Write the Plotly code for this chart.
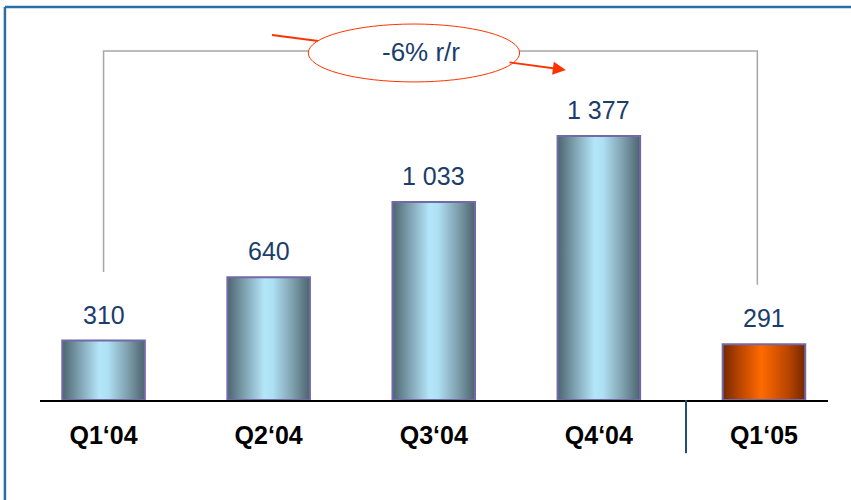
import plotly.graph_objects as go

quarters = ["Q1‘04", "Q2‘04", "Q3‘04", "Q4‘04", "Q1‘05"]
values = [310, 640, 1033, 1377, 291]
labels = ["310", "640", "1 033", "1 377", "291"]
change_text = "-6% r/r"

blue_scale = [[0, "#4b6570"], [0.2, "#7d9fae"], [0.45, "#b4e6fa"], [0.55, "#aee0f4"],
              [0.8, "#7d9dab"], [1, "#4b636e"]]
orange_scale = [[0, "#742800"], [0.2, "#b84400"], [0.47, "#ff6a00"], [0.8, "#b84400"],
                [1, "#742800"]]

half = 0.25
fig = go.Figure()

for i, v in enumerate(values):
    scale = orange_scale if i == len(values) - 1 else blue_scale
    fig.add_trace(go.Scatter(
        x=[i - half, i - half, i + half, i + half, i - half],
        y=[0, v, v, 0, 0],
        mode="lines", fill="toself",
        fillgradient=dict(type="horizontal", colorscale=scale),
        line=dict(color="#7269a6", width=2),
        hoverinfo="skip", showlegend=False,
    ))
    fig.add_annotation(x=i, y=v, text=labels[i], showarrow=False,
                       yanchor="bottom", yshift=10,
                       font=dict(size=25, color="#1b3d6b"))

# bracket from first to last quarter
top = 1820
fig.add_shape(type="path",
              path=f"M 0,{values[0] + 358} L 0,{top} L {len(values) - 1.04},{top} L {len(values) - 1.04},{values[-1] + 310}",
              line=dict(color="#a6a6a6", width=1.5))

# arrow through the ellipse
fig.add_shape(type="line", x0=1.02, y0=1904, x1=1.30, y1=1873,
              line=dict(color="#ff3300", width=2))
fig.add_annotation(x=2.80, y=1721, ax=2.45, ay=1762, axref="x", ayref="y",
                   showarrow=True, arrowhead=2, arrowsize=1.3, arrowwidth=2,
                   arrowcolor="#ff3300", text="")
fig.add_shape(type="circle", x0=1.24, x1=2.52, y0=1659, y1=1961,
              fillcolor="white", line=dict(color="#ff3300", width=1))
fig.add_annotation(x=1.92, y=1815, text=change_text, showarrow=False,
                   font=dict(size=26, color="#1b3d6b"))

# separator before Q1'05
fig.add_shape(type="line", xref="paper", yref="paper", x0=0.8198, x1=0.8198,
              y0=0, y1=-0.14, line=dict(color="#1f4e79", width=2))

# blue frame
fig.add_shape(type="line", xref="paper", yref="paper", x0=-0.0445, x1=-0.0445,
              y0=1.034, y1=-0.27, line=dict(color="#2a6ea6", width=2.5))
fig.add_shape(type="line", xref="paper", yref="paper", x0=-0.0445, x1=1.04,
              y0=1.034, y1=1.034, line=dict(color="#2a6ea6", width=2.5))

fig.update_xaxes(range=[-0.385, 4.388], tickvals=list(range(len(quarters))),
                 ticktext=quarters, showgrid=False, zeroline=False,
                 showline=True, linecolor="black", linewidth=2,
                 ticks="", ticklabelstandoff=12,
                 tickfont=dict(size=25, color="black", family="Liberation Sans",
                               weight="bold"))
fig.update_yaxes(range=[0, 1982], visible=False, showgrid=False)

fig.update_layout(
    width=851, height=500,
    margin=dict(l=40, r=23, t=20, b=100),
    plot_bgcolor="white", paper_bgcolor="white",
    font=dict(family="Liberation Sans"),
    showlegend=False,
)

fig.write_html("out.html", config={"displayModeBar": False},
               post_script="document.body.style.margin='0';")
